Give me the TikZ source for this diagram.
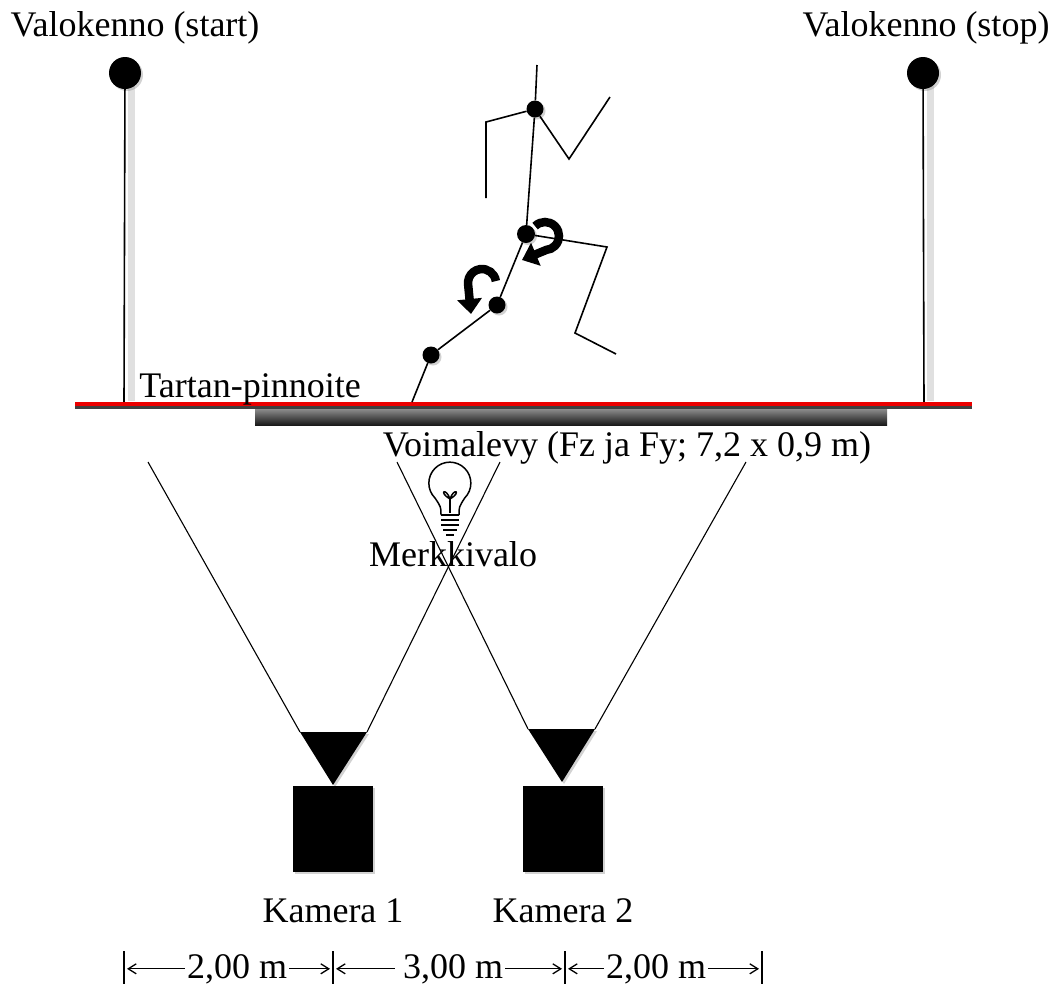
\documentclass[tikz,border=0pt]{standalone}
\usepackage{fontspec}
\setmainfont{Liberation Serif}
\usetikzlibrary{arrows.meta,shadows}
\begin{document}
\begin{tikzpicture}[x=1pt,y=-1pt,
  lbl/.style={font=\fontsize{36}{40}\selectfont, inner sep=0pt, anchor=base},
  soft/.style={drop shadow={shadow xshift=2pt, shadow yshift=-2pt, opacity=.35}},
  joint/.style={circle, fill=black, inner sep=0pt, minimum size=#1, soft},
  joint/.default=17pt,
  limb/.style={line width=1.6pt, line join=miter},
  pole/.style={line width=1.6pt},
  view/.style={line width=1.1pt},
  turn/.style={line width=8.5pt, -{Triangle[length=15pt,width=24pt]}},
  dim/.style={line width=1.3pt, -{Straight Barb[length=8pt,width=10pt]}},
  camblock/.style={fill=black, inner sep=0pt, minimum width=80pt, minimum height=86pt, soft},
]
\useasboundingbox (0,0) rectangle (1058,986);
\fill[white] (0,0) rectangle (1058,986);

% photocell posts
\node[lbl] (startlbl) at (135,36) {Valokenno (start)};
\node[lbl] (stoplbl) at (926,36) {Valokenno (stop)};
\draw[line width=7pt, black!12] (131,85) -- (131,401);
\draw[line width=7pt, black!12] (930,85) -- (930,401);
\node[joint=32pt] (sball) at (125,73) {};
\node[joint=32pt] (eball) at (923,73) {};
\coordinate (sbase) at (124,404);
\coordinate (ebase) at (924,404);
\draw[pole] (sball) -- (sbase);
\draw[pole] (eball) -- (ebase);

% track surface and force plate
\shade[top color=black!40, bottom color=black!90] (255,407) rectangle (887,425);
\coordinate (trackL) at (75,404);
\coordinate (trackR) at (972,404);
\draw[line width=3pt, black!75] (75,407.5) -- (972,407.5);
\draw[line width=4.5pt, red!92!black] (trackL) -- (trackR);
\node[lbl] (tartan) at (250,397) {Tartan-pinnoite};
\node[lbl] (platelbl) at (627,456) {Voimalevy (Fz ja Fy; 7,2 x 0,9 m)};

% runner
\coordinate (head) at (537,65);
\node[joint] (shoulder) at (535,109) {};
\coordinate (lelbow) at (486,122);
\coordinate (lhand) at (486,198);
\coordinate (relbow) at (569,159);
\coordinate (rhand) at (610,97);
\node[joint=18pt] (hip) at (526,234) {};
\coordinate (bknee) at (607,247);
\coordinate (bankle) at (575,333);
\coordinate (btoe) at (616,354);
\node[joint] (knee) at (497,305) {};
\node[joint] (ankle) at (431,355) {};
\coordinate (toe) at (412,402);
\draw[limb] (head) -- (shoulder);
\draw[limb] (shoulder) -- (lelbow) -- (lhand);
\draw[limb] (shoulder) -- (relbow) -- (rhand);
\draw[limb] (shoulder) -- (hip);
\draw[limb] (hip) -- (bknee) -- (bankle) -- (btoe);
\draw[limb] (hip) -- (knee) -- (ankle) -- (toe);

% joint rotation arrows
\draw[turn] (545,236) ++(-135:14) arc[start angle=-135, end angle=85, radius=14] -- (522,260);
\draw[turn] (482,283) ++(-8:14) arc[start angle=-8, end angle=-190, radius=14] -- (471,314);

% signal lamp
\begin{scope}[line width=1.5pt]
  \draw (441,515) .. controls (441,507) .. (435,498)
        arc[start angle=135, end angle=405, radius=21]
        .. controls (459,507) .. (459,515);
  \draw (450,513) -- (450,497);
  \draw (450,499) .. controls (446,487) and (438,492) .. (450,499);
  \draw (450,499) .. controls (454,487) and (462,492) .. (450,499);
  \draw (441,515) -- (459,515);
  \draw (441,520) -- (459,520);
  \draw (441,525) -- (459,525);
  \draw (443,530) -- (457,530);
  \draw (446,535) -- (454,535);
\end{scope}
\node[lbl] (lamplbl) at (453,566) {Merkkivalo};

% cameras
\coordinate (c1l) at (300,732);
\coordinate (c1r) at (367,732);
\coordinate (c1tip) at (333,785);
\coordinate (c2l) at (528,729);
\coordinate (c2r) at (595,729);
\coordinate (c2tip) at (562,782);
\path[fill=black, soft] (c1l) -- (c1r) -- (c1tip) -- cycle;
\path[fill=black, soft] (c2l) -- (c2r) -- (c2tip) -- cycle;
\node[camblock] (cam1) at (333,829) {};
\node[camblock] (cam2) at (563,829) {};
\node[lbl] (cam1lbl) at (333,922) {Kamera 1};
\node[lbl] (cam2lbl) at (563,922) {Kamera 2};

% fields of view
\coordinate (v1a) at (148,462);
\coordinate (v1b) at (500,462);
\coordinate (v2a) at (397,462);
\coordinate (v2b) at (746,462);
\draw[view] (v1a) -- (c1l);
\draw[view] (v1b) -- (c1r);
\draw[view] (v2a) -- (c2l);
\draw[view] (v2b) -- (c2r);

% distances between markers
\coordinate (b1) at (124,967);
\coordinate (b2) at (333,967);
\coordinate (b3) at (565,967);
\coordinate (b4) at (762,967);
\foreach \b in {b1,b2,b3,b4} \draw[line width=1.6pt] (\b) ++(0,-16) -- ++(0,33);
\node[lbl] (d1) at (237,978) {2,00 m};
\node[lbl] (d2) at (453,978) {3,00 m};
\node[lbl] (d3) at (656,978) {2,00 m};
\draw[dim, shorten <=2pt, shorten >=3pt] (d1.west) -- (b1 |- d1.west);
\draw[dim, shorten <=2pt, shorten >=3pt] (d1.east) -- (b2 |- d1.east);
\draw[dim, shorten <=8pt, shorten >=3pt] (d2.west) -- (b2 |- d2.west);
\draw[dim, shorten <=2pt, shorten >=3pt] (d2.east) -- (b3 |- d2.east);
\draw[dim, shorten <=2pt, shorten >=3pt] (d3.west) -- (b3 |- d3.west);
\draw[dim, shorten <=2pt, shorten >=3pt] (d3.east) -- (b4 |- d3.east);
\end{tikzpicture}
\end{document}
